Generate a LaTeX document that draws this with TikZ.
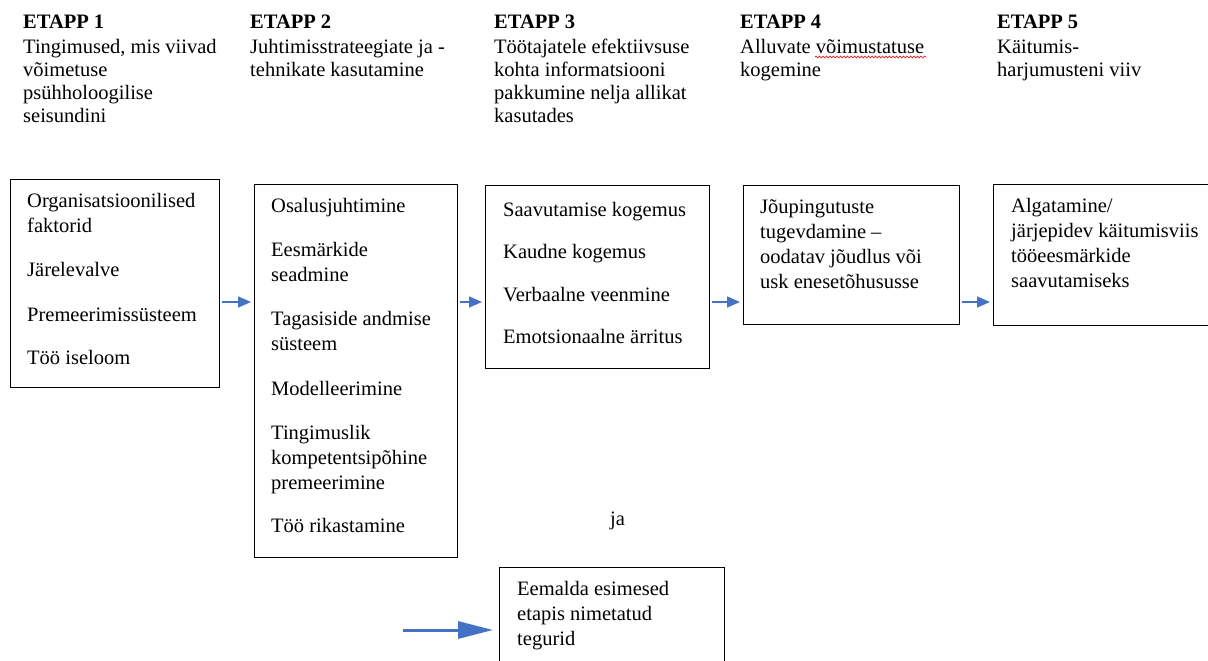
\documentclass[tikz,border=0pt]{standalone}
\usepackage{fontspec}
\setmainfont{Liberation Serif}
\usepackage{tikz}
\usetikzlibrary{arrows.meta,decorations.pathmorphing}
\usepackage{xcolor}
\definecolor{arrowblue}{RGB}{68,114,196}
\definecolor{spellred}{RGB}{225,30,30}
\newcommand{\headfont}{\fontsize{20.5}{23}\selectfont}
\newcommand{\boxfont}{\fontsize{20.5}{25}\selectfont}
\tikzset{
  stagebox/.style={draw, line width=1.1pt, rectangle, inner sep=0pt, anchor=north west},
  stagetext/.style={anchor=north west, inner sep=0pt, align=left, font=\boxfont},
  headtext/.style={anchor=north west, inner sep=0pt, align=left, font=\headfont},
  stagearrow/.style={arrowblue, line width=1.4pt, -{Triangle[length=13pt,width=11pt]}, shorten <=2pt, shorten >=3pt}
}

\begin{document}
\begin{tikzpicture}[x=1pt,y=-1pt]
  \useasboundingbox (0,0) rectangle (1208,661);
  \clip (0,0) rectangle (1208,661);

  % stage headings
  \node[headtext] (h1) at (23,11.9) {\strut\textbf{ETAPP 1}\\[2pt] Tingimused, mis viivad\\ võimetuse\\ psühholoogilise\\ seisundini};
  \node[headtext] (h2) at (250,11.9) {\strut\textbf{ETAPP 2}\\[2pt] Juhtimisstrateegiate ja -\\ tehnikate kasutamine};
  \node[headtext] (h3) at (494,11.9) {\strut\textbf{ETAPP 3}\\[2pt] Töötajatele efektiivsuse\\ kohta informatsiooni\\ pakkumine nelja allikat\\ kasutades};
  \node[headtext] (h4) at (740,11.9) {\strut\textbf{ETAPP 4}\\[2pt] Alluvate võimustatuse\\ kogemine};
  \node[headtext] (h5) at (997,11.9) {\strut\textbf{ETAPP 5}\\[2pt] Käitumis-\\ harjumusteni viiv};
  \draw[spellred, line width=0.7pt, decorate, decoration={snake, amplitude=0.9pt, segment length=3.5pt}] (815,57) -- (926,57);

  % boxes
  \node[stagebox, minimum width=209pt, minimum height=208pt] (b1) at (10,179) {};
  \node[stagebox, minimum width=203pt, minimum height=373pt] (b2) at (254,184) {};
  \node[stagebox, minimum width=224pt, minimum height=183pt] (b3) at (485,185) {};
  \node[stagebox, minimum width=216pt, minimum height=139pt] (b4) at (743,185) {};
  \node[stagebox, minimum width=260pt, minimum height=141pt] (b5) at (993,184) {};
  \node[stagebox, minimum width=225pt, minimum height=120pt] (b6) at (499,567) {};

  \node[stagetext] (t1) at (27,189.5) {\strut Organisatsioonilised\\ faktorid\\[19.5pt] Järelevalve\\[19.5pt] Premeerimissüsteem\\[18.5pt] Töö iseloom};
  \node[stagetext] (t2) at (271,194.5) {\strut Osalusjuhtimine\\[19.5pt] Eesmärkide\\ seadmine\\[19pt] Tagasiside andmise\\ süsteem\\[19.5pt] Modelleerimine\\[19pt] Tingimuslik\\ kompetentsipõhine\\ premeerimine\\[18.5pt] Töö rikastamine};
  \node[stagetext] (t3) at (503,198.5) {\strut Saavutamise kogemus\\[17.5pt] Kaudne kogemus\\[17.5pt] Verbaalne veenmine\\[17.5pt] Emotsionaalne ärritus};
  \node[stagetext] (t4) at (760,195.5) {\strut Jõupingutuste\\ tugevdamine –\\ oodatav jõudlus või\\ usk enesetõhususse};
  \node[stagetext] (t5) at (1011,194.5) {\strut Algatamine/\\ järjepidev käitumisviis\\ tööeesmärkide\\ saavutamiseks};
  \node[stagetext] (t6) at (517,577.5) {\strut Eemalda esimesed\\ etapis nimetatud\\ tegurid};

  \node[anchor=base west, inner sep=0pt, font=\boxfont] (ja) at (610,525) {ja};

  % arrows between the stages
  \coordinate (arrowrow) at (0,302);
  \foreach \from/\to in {b1/b2,b2/b3,b3/b4,b4/b5}
    \draw[stagearrow] (\from.east |- arrowrow) -- (\to.west |- arrowrow);

  \coordinate (bigtail) at (403,630);
  \draw[arrowblue, line width=3pt, -{Triangle[length=35pt,width=17pt]}, shorten >=6pt] (bigtail) -- (bigtail -| b6.west);
\end{tikzpicture}
\end{document}
